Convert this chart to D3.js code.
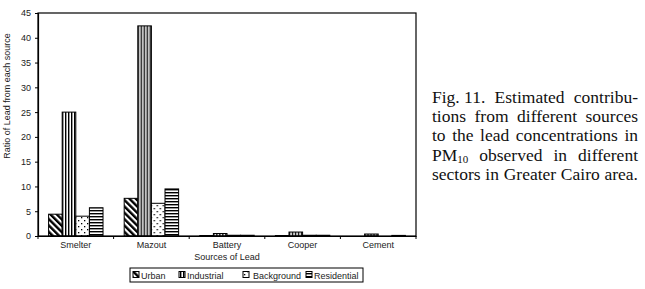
<!DOCTYPE html>
<html>
<head>
<meta charset="utf-8">
<script src="https://cdn.jsdelivr.net/npm/d3@7"></script>
<style>
  html, body { margin: 0; padding: 0; background: #fff; }
  svg { display: block; }
</style>
</head>
<body>
<div id="chart"></div>
<script>
// 数据
const categories = ['Smelter', 'Mazout', 'Battery', 'Cooper', 'Cement'];
const series = ['Urban', 'Industrial', 'Background', 'Residential'];
const urban = [4.4, 7.6, 0.1, 0.1, 0];
const industrial = [25, 42.4, 0.5, 0.8, 0.4];
const background = [4.0, 6.6, 0.15, 0.15, 0];
const residential = [5.7, 9.5, 0.15, 0.15, 0.12];
const yTicks = [0, 5, 10, 15, 20, 25, 30, 35, 40, 45];
const captionLines = [
  ['Fig. 11.', 'Estimated', 'contribu-'],
  ['tions', 'from', 'different', 'sources'],
  ['to', 'the', 'lead', 'concentrations', 'in'],
  ['PM10', 'observed', 'in', 'different'],
  ['sectors', 'in', 'Greater', 'Cairo', 'area.']
];

const values = [urban, industrial, background, residential];

const W = 645, H = 289;
const svg = d3.select('#chart').append('svg')
  .attr('width', W).attr('height', H)
  .style('font-family', '"Liberation Sans", Arial, sans-serif');

// 填充图案
const defs = svg.append('defs');
const pUrban = defs.append('pattern').attr('id', 'p-urban')
  .attr('patternUnits', 'userSpaceOnUse').attr('width', 4.5).attr('height', 4.5)
  .attr('patternTransform', 'rotate(-45)');
pUrban.append('rect').attr('width', 4.5).attr('height', 4.5).attr('fill', '#fff');
pUrban.append('rect').attr('width', 2.4).attr('height', 4.5).attr('fill', '#000');

const pInd = defs.append('pattern').attr('id', 'p-industrial')
  .attr('patternUnits', 'userSpaceOnUse').attr('width', 3).attr('height', 3);
pInd.append('rect').attr('width', 3).attr('height', 3).attr('fill', '#fff');
pInd.append('rect').attr('width', 1.4).attr('height', 3).attr('fill', '#000');

const pBg = defs.append('pattern').attr('id', 'p-background')
  .attr('patternUnits', 'userSpaceOnUse').attr('width', 6).attr('height', 6);
pBg.append('rect').attr('width', 6).attr('height', 6).attr('fill', '#fff');
pBg.append('rect').attr('x', 1).attr('y', 1).attr('width', 1.3).attr('height', 1.3).attr('fill', '#000');
pBg.append('rect').attr('x', 4).attr('y', 4).attr('width', 1.3).attr('height', 1.3).attr('fill', '#000');

const pRes = defs.append('pattern').attr('id', 'p-residential')
  .attr('patternUnits', 'userSpaceOnUse').attr('width', 3).attr('height', 3);
pRes.append('rect').attr('width', 3).attr('height', 3).attr('fill', '#fff');
pRes.append('rect').attr('width', 3).attr('height', 1.4).attr('fill', '#000');

const fills = ['url(#p-urban)', 'url(#p-industrial)', 'url(#p-background)', 'url(#p-residential)'];

// 比例尺
const plotL = 38, plotR = 416, plotT = 13, plotB = 236;
const x0 = d3.scaleBand().domain(categories).range([plotL, plotR]);
const x1 = d3.scaleBand().domain(series)
  .range([x0.bandwidth() * 0.14, x0.bandwidth() * 0.86]);
const y = d3.scaleLinear().domain([0, 45]).range([plotB, plotT]);

// 柱子
const groups = svg.append('g').selectAll('g')
  .data(categories)
  .join('g')
  .attr('transform', d => `translate(${x0(d)},0)`);
groups.selectAll('rect')
  .data((c, ci) => series.map((s, si) => ({ s, si, v: values[si][ci] })).filter(d => d.v > 0))
  .join('rect')
  .attr('x', d => x1(d.s))
  .attr('y', d => y(d.v))
  .attr('width', x1.bandwidth())
  .attr('height', d => y(0) - y(d.v))
  .attr('fill', d => fills[d.si])
  .attr('stroke', '#000')
  .attr('stroke-width', 1);

// 边框
svg.append('rect')
  .attr('x', plotL).attr('y', plotT)
  .attr('width', plotR - plotL).attr('height', plotB - plotT)
  .attr('fill', 'none').attr('stroke', '#000').attr('stroke-width', 1.2);

// Y 轴
const yAxis = svg.append('g')
  .attr('transform', `translate(${plotL},0)`)
  .call(d3.axisLeft(y).tickValues(yTicks).tickSize(3).tickPadding(4));
yAxis.select('.domain').attr('stroke-width', 1.2);
yAxis.selectAll('text').attr('font-size', 9).attr('font-family', null).attr('fill', '#222');

// X 轴
const xAxis = svg.append('g')
  .attr('transform', `translate(0,${plotB})`)
  .call(d3.axisBottom(x0).tickSize(0).tickPadding(6));
xAxis.select('.domain').attr('stroke-width', 1.2);
xAxis.selectAll('text').attr('font-size', 9).attr('font-family', null).attr('fill', '#222');
xAxis.selectAll('.sep')
  .data(categories.concat(['_end']))
  .join('line')
  .attr('class', 'sep')
  .attr('x1', (d, i) => plotL + i * x0.bandwidth())
  .attr('x2', (d, i) => plotL + i * x0.bandwidth())
  .attr('y1', 0).attr('y2', 3)
  .attr('stroke', '#000');

// 轴标题
svg.append('text')
  .attr('x', (plotL + plotR) / 2).attr('y', 260)
  .attr('text-anchor', 'middle').attr('font-size', 9).attr('fill', '#222')
  .text('Sources of Lead');
svg.append('text')
  .attr('transform', 'translate(10,96) rotate(-90)')
  .attr('text-anchor', 'middle').attr('font-size', 9).attr('fill', '#222')
  .text('Ratio of Lead from each source');

// 图例
const legend = svg.append('g');
legend.append('rect')
  .attr('x', 130).attr('y', 268).attr('width', 233).attr('height', 14)
  .attr('fill', '#fff').attr('stroke', '#000').attr('stroke-width', 1);
const legendX = [133, 179, 243, 306];
series.forEach((s, i) => {
  legend.append('rect')
    .attr('x', legendX[i]).attr('y', 271.5).attr('width', 6).attr('height', 6)
    .attr('fill', fills[i]).attr('stroke', '#000').attr('stroke-width', 1);
  legend.append('text')
    .attr('x', legendX[i] + (i === 2 ? 10 : 8)).attr('y', 278.5)
    .attr('font-size', 9).attr('fill', '#222')
    .text(s);
});

// 图注文字（两端对齐）
const cap = svg.append('g')
  .style('font-family', '"Liberation Serif", "Times New Roman", serif')
  .attr('font-size', 17.5).attr('fill', '#111');
const capLeft = 432, capRight = 638, capTop = 103, capLine = 19.2;
captionLines.forEach((words, li) => {
  const yy = capTop + li * capLine;
  const nodes = words.map(w => {
    const t = cap.append('text').attr('y', yy);
    if (w === 'PM10') {
      t.append('tspan').text('PM');
      t.append('tspan').attr('font-size', 11).attr('dy', 2.5).text('10');
    } else {
      t.text(w);
    }
    return t;
  });
  const widths = nodes.map(n => n.node().getComputedTextLength());
  const total = d3.sum(widths);
  const gap = (capRight - capLeft - total) / (words.length - 1);
  let cx = capLeft;
  nodes.forEach((n, i) => {
    n.attr('x', cx);
    cx += widths[i] + gap;
  });
});
</script>
</body>
</html>
